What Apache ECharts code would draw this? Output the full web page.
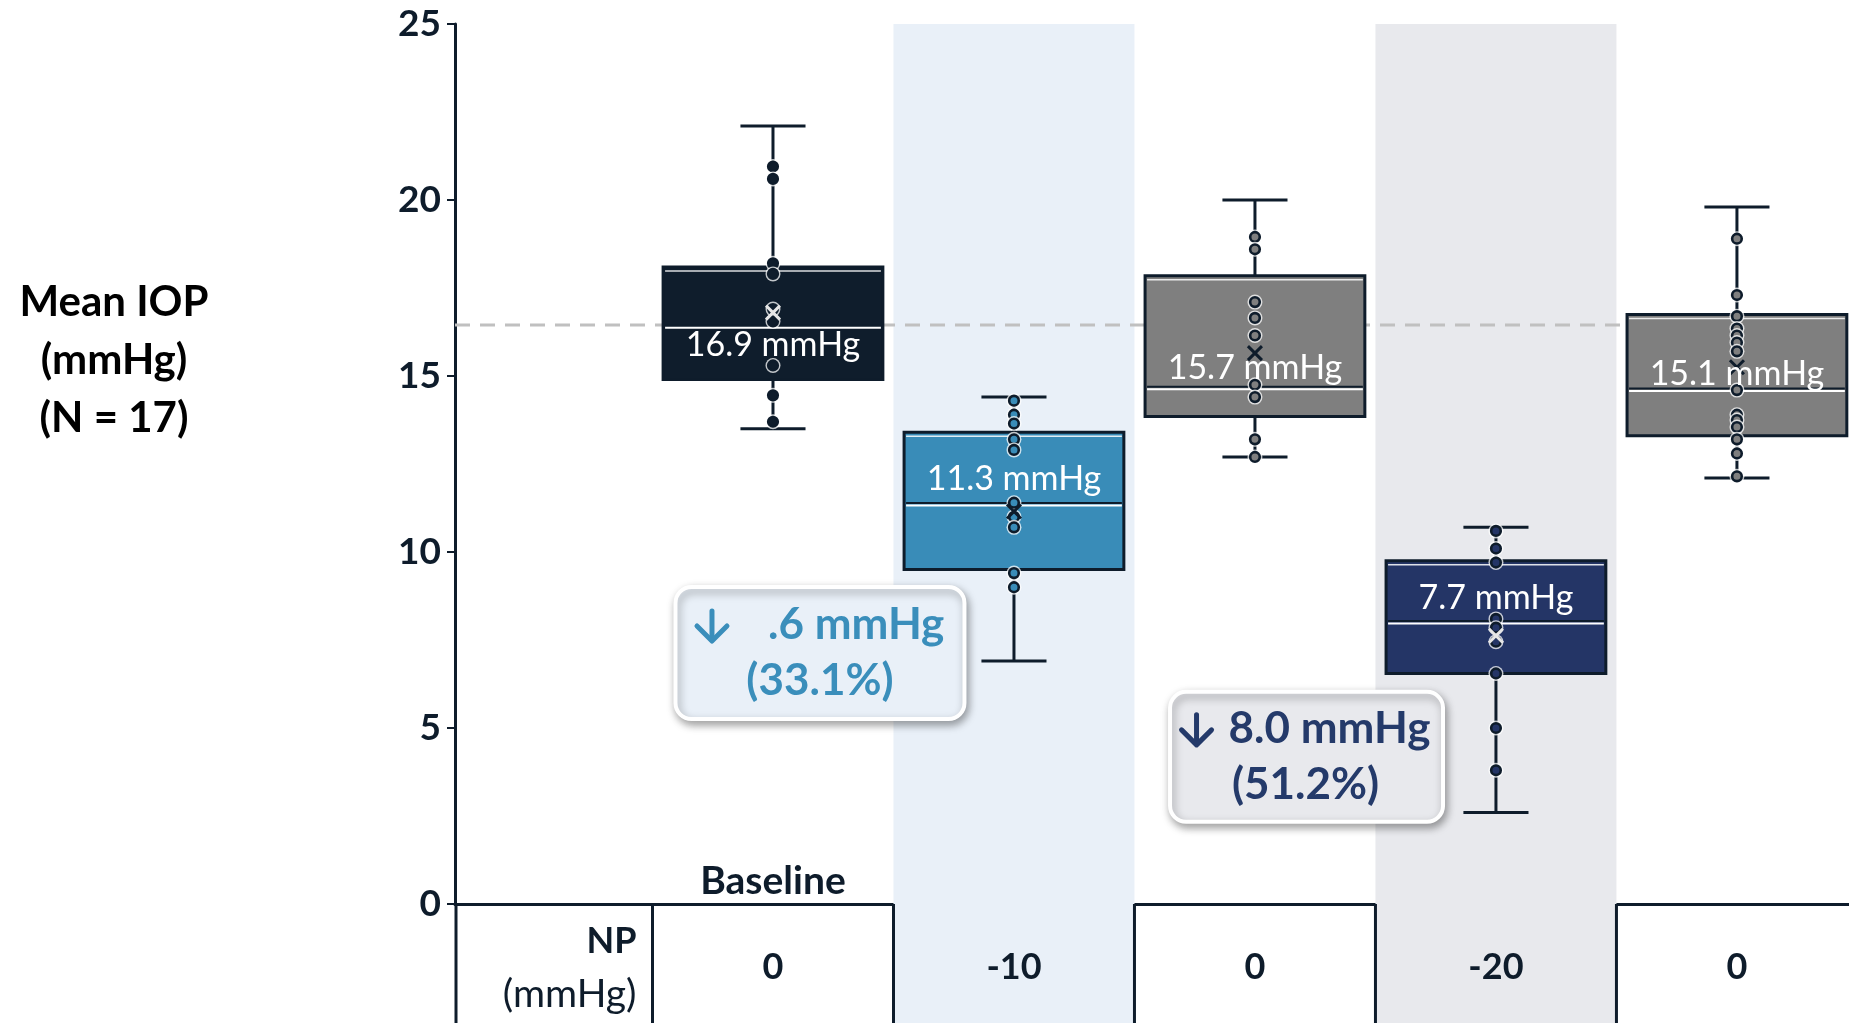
<!DOCTYPE html>
<html>
<head>
<meta charset="utf-8">
<script src="https://cdn.jsdelivr.net/npm/echarts@6/dist/echarts.min.js"></script>
<style>
html,body{margin:0;padding:0;background:#fff;}
#c{width:1849px;height:1023px;}
</style>
</head>
<body>
<div id="c"></div>
<script>
// ---- data ----
var groupLabels = ['Baseline', '', '', '', ''];
var npValues = ['0', '-10', '0', '-20', '0'];
var meanLabels = ['16.9 mmHg', '11.3 mmHg', '15.7 mmHg', '7.7 mmHg', '15.1 mmHg'];
var whiskerLow = [13.5, 6.9, 12.7, 2.6, 12.1];
var q1 = [14.9, 9.5, 13.85, 6.55, 13.3];
var median = [16.4, 11.35, 14.65, 8.0, 14.6];
var q3 = [18.1, 13.4, 17.85, 9.75, 16.75];
var whiskerHigh = [22.1, 14.4, 20.0, 10.7, 19.8];
var means = [16.8, 11.15, 15.65, 7.62, 15.25];
var points0 = [20.95, 20.6, 18.2, 17.9, 16.9, 16.55, 15.3, 14.45, 13.7];
var points1 = [14.3, 13.9, 13.65, 13.2, 12.9, 11.4, 11.0, 10.7, 9.4, 9.0];
var points2 = [18.95, 18.6, 17.1, 16.65, 16.15, 14.75, 14.4, 13.2, 12.7];
var points3 = [10.6, 10.1, 9.7, 8.1, 7.85, 7.45, 6.55, 5.0, 3.8];
var points4 = [18.9, 17.3, 16.7, 16.35, 16.15, 15.95, 15.7, 14.6, 13.9, 13.75, 13.55, 13.2, 12.8, 12.15];
var baselineRef = 16.45;
var yTicks = [0, 5, 10, 15, 20, 25];
var changeLines1 = ['.6 mmHg', '(33.1%)'];
var changeLines2 = ['8.0 mmHg', '(51.2%)'];

// ---- styles ----
var DARK = '#0e1c2b';
var FONT = 'Lato, "Open Sans", sans-serif';
var boxFill = ['#0f1d2c', '#398cb8', '#7f7f7f', '#243566', '#7f7f7f'];
var meanColor = ['#e6e6e6', DARK, DARK, '#e6e6e6', DARK];
var labelDy = [18, -25, -20, -24, -16];
var bandColor = {1: '#e9f0f8', 3: '#e8e9ed'};
var XMIN = -1.3195, XMAX = 4.465, YBOTTOM = -3.6;

var allPoints = [points0, points1, points2, points3, points4];
var boxData = [];
for (var i = 0; i < 5; i++) boxData.push([i, whiskerLow[i], q1[i], median[i], q3[i], whiskerHigh[i], means[i]]);
var pointData = [];
allPoints.forEach(function (arr, g) { arr.forEach(function (v) { pointData.push([g, v]); }); });

var chart = echarts.init(document.getElementById('c'), null, {renderer: 'canvas'});

function bandRender(params, api) {
  var i = api.value(0);
  var tl = api.coord([i - 0.5, 25]);
  var br = api.coord([i + 0.5, YBOTTOM]);
  return {type: 'rect', shape: {x: tl[0], y: tl[1], width: br[0] - tl[0], height: br[1] - tl[1]},
    style: {fill: bandColor[i]}};
}

function boxRender(params, api) {
  var i = api.value(0);
  var band = api.size([1, 0])[0];
  var hw = band * 0.456, cw = band * 0.135;
  var pl = api.coord([i, api.value(1)]);
  var p1 = api.coord([i, api.value(2)]);
  var pm = api.coord([i, api.value(3)]);
  var p3 = api.coord([i, api.value(4)]);
  var ph = api.coord([i, api.value(5)]);
  var c = pl[0];
  var ls = {stroke: DARK, lineWidth: 3};
  return {type: 'group', children: [
    {type: 'line', shape: {x1: c, y1: ph[1], x2: c, y2: p3[1]}, style: ls},
    {type: 'line', shape: {x1: c, y1: p1[1], x2: c, y2: pl[1]}, style: ls},
    {type: 'line', shape: {x1: c - cw, y1: ph[1], x2: c + cw, y2: ph[1]}, style: ls},
    {type: 'line', shape: {x1: c - cw, y1: pl[1], x2: c + cw, y2: pl[1]}, style: ls},
    {type: 'rect', shape: {x: c - hw, y: p3[1], width: hw * 2, height: p1[1] - p3[1]},
      style: {fill: boxFill[i], stroke: DARK, lineWidth: 3}},
    {type: 'line', shape: {x1: c - hw + 2, y1: p3[1] + 4, x2: c + hw - 2, y2: p3[1] + 4},
      style: {stroke: '#ffffff', lineWidth: 1.5, opacity: 0.85}},
    {type: 'line', shape: {x1: c - hw + 2, y1: pm[1] - 1.5, x2: c + hw - 2, y2: pm[1] - 1.5},
      style: {stroke: DARK, lineWidth: 2}},
    {type: 'line', shape: {x1: c - hw + 2, y1: pm[1] + 1, x2: c + hw - 2, y2: pm[1] + 1},
      style: {stroke: '#ffffff', lineWidth: 2}}
  ]};
}

function pointRender(params, api) {
  var g = api.value(0);
  var p = api.coord([g, api.value(1)]);
  return {type: 'group', children: [
    {type: 'circle', shape: {cx: p[0], cy: p[1], r: 7.5}, style: {fill: 'rgba(255,255,255,0.75)'}},
    {type: 'circle', shape: {cx: p[0], cy: p[1], r: 4.8}, style: {fill: boxFill[g], stroke: DARK, lineWidth: 2.6}}
  ]};
}

function meanRender(params, api) {
  var i = api.value(0);
  var p = api.coord([i, api.value(6)]);
  var s = 7;
  var st = {stroke: meanColor[i], lineWidth: 3};
  return {type: 'group', children: [
    {type: 'line', shape: {x1: p[0] - s, y1: p[1] - s, x2: p[0] + s, y2: p[1] + s}, style: st},
    {type: 'line', shape: {x1: p[0] - s, y1: p[1] + s, x2: p[0] + s, y2: p[1] - s}, style: st},
    {type: 'text', x: p[0], y: api.coord([i, api.value(3)])[1] + labelDy[i],
      style: {text: meanLabels[i], fill: '#ffffff', font: '34px ' + FONT, align: 'center', verticalAlign: 'middle'}}
  ]};
}

function tableRender(params, api) {
  var i = api.value(0);
  var top = api.coord([i - 0.5, 0]);
  var bot = api.coord([i - 0.5, YBOTTOM]);
  var ctr = api.coord([i, -1.79]);
  var children = [
    {type: 'line', shape: {x1: top[0], y1: top[1], x2: bot[0], y2: bot[1]}, style: {stroke: DARK, lineWidth: 3}},
    {type: 'text', x: ctr[0], y: ctr[1], style: {text: npValues[i], fill: DARK, font: 'bold 36px ' + FONT, align: 'center', verticalAlign: 'middle'}}
  ];
  if (groupLabels[i]) {
    var b = api.coord([i, 0.65]);
    children.push({type: 'text', x: b[0], y: b[1], style: {text: groupLabels[i], fill: DARK, font: 'bold 39px ' + FONT, align: 'center', verticalAlign: 'middle'}});
  }
  if (i === 0) {
    var np = api.coord([i - 0.5, -1.05]);
    children.push({type: 'text', x: np[0] - 16, y: np[1], style: {text: 'NP', fill: DARK, font: 'bold 36px ' + FONT, align: 'right', verticalAlign: 'middle'}});
    var mm = api.coord([i - 0.5, -2.56]);
    children.push({type: 'text', x: mm[0] - 16, y: mm[1], style: {text: '(mmHg)', fill: DARK, font: '39px ' + FONT, align: 'right', verticalAlign: 'middle'}});
  }
  return {type: 'group', children: children};
}

function axisExtRender(params, api) {
  var ax0 = api.coord([XMIN, 0]), ax1 = api.coord([XMIN, YBOTTOM]);
  return {type: 'line', shape: {x1: ax0[0] + 1, y1: ax0[1], x2: ax1[0] + 1, y2: ax1[1]}, style: {stroke: DARK, lineWidth: 3}};
}

function refRender(params, api) {
  var a = api.coord([XMIN, api.value(0)]);
  var b = api.coord([XMAX, api.value(0)]);
  return {type: 'line', shape: {x1: a[0], y1: a[1], x2: b[0], y2: b[1]},
    style: {stroke: '#c0c0c0', lineWidth: 3, lineDash: [15, 10]}};
}

var annots = [
  {x: 0.195, y: 7.13, w: 289, h: 132, fill: '#e9f0f8', color: '#3a8ebb', lines: changeLines1, arrowDx: -108, textDx: -52, l2dx: 0},
  {x: 2.214, y: 4.18, w: 273, h: 130, fill: '#e8e9ed', color: '#243a6a', lines: changeLines2, arrowDx: -110, textDx: -78, l2dx: -1}
];
function annotRender(params, api) {
  var a = annots[params.dataIndex];
  var p = api.coord([api.value(0), api.value(1)]);
  var ax = a.arrowDx, ay = -27;
  var ast = {stroke: a.color, lineWidth: 5, lineCap: 'round', lineJoin: 'round', fill: null};
  return {type: 'group', x: p[0], y: p[1], children: [
    {type: 'rect', shape: {x: -a.w / 2, y: -a.h / 2, width: a.w, height: a.h, r: 16},
      style: {fill: a.fill, stroke: '#ffffff', lineWidth: 4, shadowBlur: 8, shadowOffsetX: 2, shadowOffsetY: 4, shadowColor: 'rgba(0,0,0,0.35)'}},
    {type: 'line', shape: {x1: ax, y1: ay - 15, x2: ax, y2: ay + 14}, style: ast},
    {type: 'polyline', shape: {points: [[ax - 15, ay], [ax, ay + 15], [ax + 15, ay]]}, style: ast},
    {type: 'text', x: a.textDx, y: -28, style: {text: a.lines[0], fill: a.color, font: 'bold 44px ' + FONT, align: 'left', verticalAlign: 'middle'}},
    {type: 'text', x: a.l2dx, y: 28, style: {text: a.lines[1], fill: a.color, font: 'bold 44px ' + FONT, align: 'center', verticalAlign: 'middle'}}
  ]};
}

chart.setOption({
  animation: false,
  backgroundColor: '#ffffff',
  grid: {left: 455, right: 0, top: 24, bottom: 119, containLabel: false},
  xAxis: {type: 'value', min: XMIN, max: XMAX, show: true,
    axisLine: {show: true, onZero: false, lineStyle: {color: DARK, width: 3}},
    axisTick: {show: false}, axisLabel: {show: false}, splitLine: {show: false}},
  yAxis: {type: 'value', min: 0, max: 25, interval: 5,
    axisLine: {show: true, onZero: false, lineStyle: {color: DARK, width: 3}},
    axisTick: {show: true, length: 8, lineStyle: {color: DARK, width: 2}},
    axisLabel: {color: DARK, fontSize: 37, fontWeight: 'bold', fontFamily: FONT, margin: 14,
      formatter: function (v) { return yTicks.indexOf(v) >= 0 ? String(v) : ''; }},
    splitLine: {show: false}},
  graphic: [{type: 'text', x: 114, y: 360, z: 10,
    style: {text: 'Mean IOP\n(mmHg)\n(N = 17)', fill: '#000000', font: 'bold 42px ' + FONT,
      align: 'center', verticalAlign: 'middle', lineHeight: 58}}],
  series: [
    {type: 'custom', clip: false, z: 1, data: [[1], [3]], renderItem: bandRender, silent: true},
    {type: 'custom', clip: false, z: 2, data: [[baselineRef]], renderItem: refRender, silent: true},
    {type: 'custom', clip: false, z: 3, data: boxData, renderItem: boxRender, silent: true},
    {type: 'custom', clip: false, z: 4, data: pointData, renderItem: pointRender, silent: true},
    {type: 'custom', clip: false, z: 5, data: boxData, renderItem: meanRender, silent: true},
    {type: 'custom', clip: false, z: 6, data: [[0], [1], [2], [3], [4]], renderItem: tableRender, silent: true},
    {type: 'custom', clip: false, z: 6, data: [[0]], renderItem: axisExtRender, silent: true},
    {type: 'custom', clip: false, z: 7, data: annots.map(function (a) { return [a.x, a.y]; }), renderItem: annotRender, silent: true}
  ]
});
</script>
</body>
</html>
